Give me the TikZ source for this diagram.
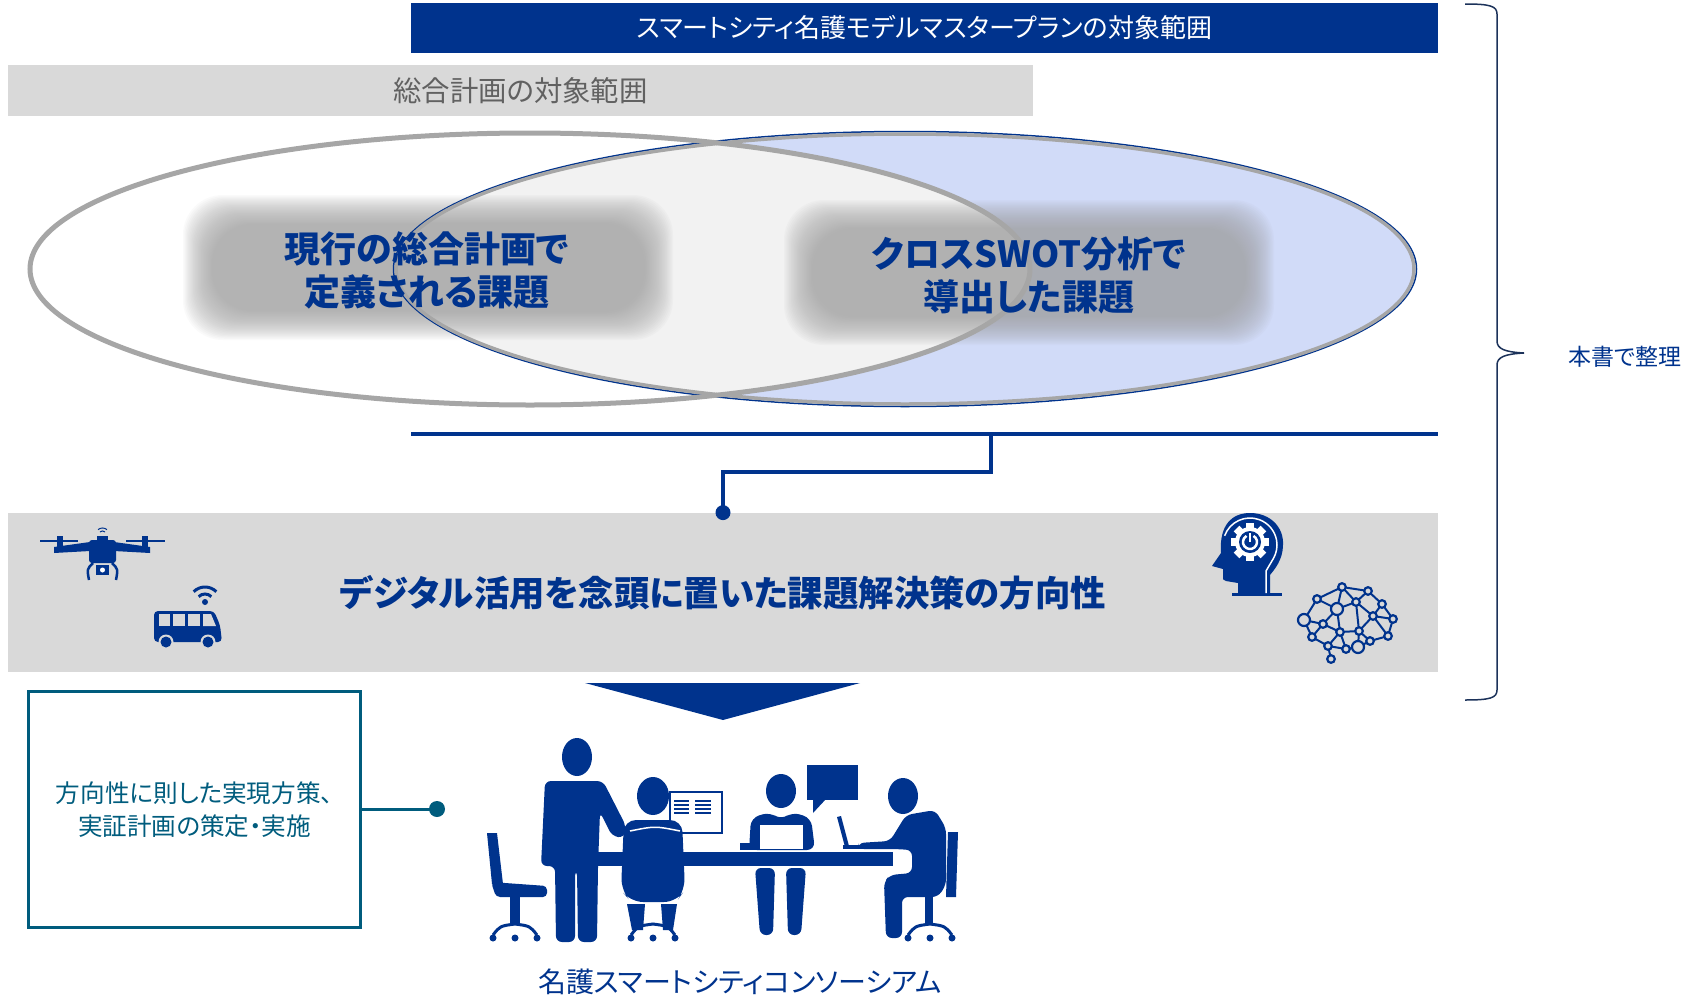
\documentclass[tikz,border=0pt]{standalone}
\usepackage{fontspec}
\setmainfont{Noto Sans CJK JP}[RawFeature=+palt]
\usepackage{tikz}
\usetikzlibrary{positioning,calc}

\definecolor{navy}{RGB}{0,51,141}
\definecolor{darkteal}{RGB}{0,92,125}
\definecolor{bandgray}{RGB}{217,217,217}
\definecolor{rimgray}{RGB}{166,166,166}
\definecolor{skyfill}{RGB}{209,219,248}
\definecolor{capgray}{RGB}{242,242,242}
\definecolor{blobgray}{RGB}{160,160,160}
\definecolor{bracecol}{RGB}{28,50,90}

\begin{document}
\begin{tikzpicture}[x=0.5pt, y=-0.5pt,
    planbar/.style={fill=navy, text=white, inner sep=0pt,
      minimum width=1027*\px, minimum height=50*\px, font=\fontsize{13}{16}\selectfont},
    sogobar/.style={fill=bandgray, text=black!62, inner sep=0pt,
      minimum width=1025*\px, minimum height=51*\px, font=\fontsize{14.2}{17}\selectfont},
    issue/.style={text=navy, align=center, font=\bfseries\fontsize{18}{21.5}\selectfont},
    band/.style={fill=bandgray, text=navy, inner sep=0pt,
      minimum width=1430*\px, minimum height=159*\px, font=\bfseries\fontsize{17.7}{21}\selectfont},
    measbox/.style={draw=darkteal, line width=3.3*\px, text=darkteal, align=center,
      minimum width=332*\px, minimum height=236*\px, font=\fontsize{12.3}{16.5}\selectfont},
    navyline/.style={navy, line width=4.5*\px},
    tealline/.style={darkteal, line width=3*\px},
    netedge/.style={navy, line width=2*\px},
    netnode/.style={draw=navy, fill=bandgray, line width=2.2*\px}
  ]
  % Масштаб: 1 единица = 1 px
  \def\px{0.5pt}
  \useasboundingbox (0,0) rectangle (1704,996);

  % Размытая подложка под текстом
  \def\blob#1#2#3#4{
    \foreach \i in {0,...,23}
      \fill[blobgray, opacity=0.05, rounded corners=20pt]
        ({#1+\i*1.25},{#2+\i*1.25}) rectangle ({#3-\i*1.25},{#4-\i*1.25});
  }
  % Основание офисного стула
  \def\chairbase#1{
    \draw[navy, line width=3*\px] (#1-22,935) .. controls (#1-15,926) .. (#1,924)
      .. controls (#1+15,926) .. (#1+22,935);
    \foreach \wx in {-22,0,22} \fill[navy] (#1+\wx,938) circle[radius=3.5*\px];
  }

  % Заголовки областей
  \node[planbar] (plan) at (924.5,28) {スマートシティ名護モデルマスタープランの対象範囲};
  \node[sogobar] (sogo) at (520.5,90.5) {総合計画の対象範囲};

  % Эллипсы
  \fill[skyfill] (905,269) ellipse[x radius=509*\px, y radius=135*\px];
  \fill[white] (530,269) ellipse[x radius=500*\px, y radius=136*\px];
  \begin{scope}
    \clip (530,269) ellipse[x radius=500*\px, y radius=136*\px];
    \fill[capgray] (905,269) ellipse[x radius=509*\px, y radius=135*\px];
  \end{scope}
  \blob{183}{195}{673}{340}
  \blob{784}{200}{1274}{345}
  \draw[navy, line width=1.5*\px] (905,269) ellipse[x radius=511.5*\px, y radius=137.5*\px];
  \draw[rimgray, line width=3.5*\px] (905,269) ellipse[x radius=509*\px, y radius=135*\px];
  \draw[rimgray, line width=5*\px] (530,269) ellipse[x radius=500*\px, y radius=136*\px];

  \node[issue] (genko) at (427,270) {現行の総合計画で\\定義される課題};
  \node[issue] (swot) at (1029,275) {クロスSWOT分析で\\導出した課題};

  % Линия и выноска к направлению
  \coordinate (lineL) at (411,434);
  \coordinate (lineR) at (1438,434);
  \coordinate (split) at (991,434);
  \draw[navyline] (lineL) -- (lineR);
  \node[band] (hoko) at (723,592.5) {デジタル活用を念頭に置いた課題解決策の方向性};
  \draw[navyline] (split) -- ++(0,38) -| (hoko.north);
  \fill[navy] (hoko.north) circle[radius=7.5*\px];

  % Дрон
  \begin{scope}[shift={(102,555)}]
    \fill[navy] (-62,-15) rectangle (-24,-13);
    \fill[navy] (24,-15) rectangle (63,-13);
    \fill[navy] (-45,-19) rectangle (-39,-6);
    \fill[navy] (40,-19) rectangle (46,-6);
    \fill[navy] (-48,-8) -- (-12,-13) -- (-12,-4) -- (-48,-2) -- cycle;
    \fill[navy] (48,-8) -- (12,-13) -- (12,-4) -- (48,-2) -- cycle;
    \fill[navy, rounded corners=1.5pt] (-13,-15) rectangle (14,8);
    \fill[navy] (-5,-19) rectangle (6,-14);
    \draw[navy, line width=2.5*\px] (-9,8) .. controls (-15,14) .. (-13,25);
    \draw[navy, line width=2.5*\px] (10,8) .. controls (16,14) .. (14,25);
    \fill[navy] (-6,10) rectangle (7,20);
    \fill[white] (0.5,15) circle[radius=2.5*\px];
    \draw[navy, line width=1*\px] (0.5,-20) ++(50:4*\px) arc[start angle=50, end angle=130, radius=4*\px];
    \draw[navy, line width=1*\px] (0.5,-20) ++(50:7*\px) arc[start angle=50, end angle=130, radius=7*\px];
  \end{scope}

  % Автобус
  \fill[navy, rounded corners=2pt] (154,611) -- (214,611) -- (220,625) -- (222,642) -- (154,642) -- cycle;
  \foreach \wl/\wr in {159/170, 173/185, 188/200}
    \fill[bandgray] (\wl,614) rectangle (\wr,626);
  \fill[bandgray] (203,614) -- (211,614) -- (216,626) -- (203,626) -- cycle;
  \foreach \wx in {166,208} {
    \fill[bandgray] (\wx,642) circle[radius=7.5*\px];
    \fill[navy] (\wx,642) circle[radius=5.5*\px];
  }
  \fill[navy] (205,602) circle[radius=3*\px];
  \draw[navy, line width=3*\px] (205,603) ++(45:9*\px) arc[start angle=45, end angle=135, radius=9*\px];
  \draw[navy, line width=3*\px] (205,603) ++(45:16*\px) arc[start angle=45, end angle=135, radius=16*\px];

  % Голова с шестерёнкой
  \fill[navy] (1238,593) -- (1238,583) -- (1226,581) .. controls (1223,580) .. (1223,576)
    -- (1223,569) -- (1212,566) -- (1221,553) .. controls (1219,525) and (1232,513) .. (1250,513)
    .. controls (1270,513) and (1284,527) .. (1283,545) .. controls (1283,560) and (1274,570) .. (1270,575)
    -- (1270,593) -- cycle;
  \fill[navy] (1232,593) rectangle (1282,596);
  \draw[white, line width=1.5*\px] (1250,545) ++(160:27*\px) arc[start angle=160, end angle=-30, radius=27*\px]
    -- (1266,571) -- (1266,593);
  \fill[white] (1250,542) circle[radius=15*\px];
  \foreach \a in {0,45,...,315}
    \fill[white, rotate around={\a:(1250,542)}] (1246,523) rectangle (1254,530);
  \fill[navy] (1250,542) circle[radius=11*\px];
  \draw[white, line width=2.5*\px] (1250,542) ++(60:7*\px) arc[start angle=60, end angle=-240, radius=7*\px];
  \draw[white, line width=2.5*\px] (1250,542) -- (1250,533);

  % Нейросеть
  \foreach \n/\x/\y in {1/1342/587, 2/1368/591, 3/1317/599, 4/1356/602, 5/1382/604,
      6/1337/609, 7/1373/616, 8/1304/620, 9/1393/619, 10/1323/624, 11/1340/632,
      12/1359/631, 13/1312/637, 14/1388/636, 15/1370/641, 16/1328/646, 17/1346/649,
      18/1358/647, 19/1331/659}
    \coordinate (b\n) at (\x,\y);
  \foreach \a/\b in {1/2, 1/3, 1/4, 1/6, 2/4, 2/5, 3/6, 3/8, 4/6, 4/7, 5/7, 5/9, 4/12,
      6/10, 6/11, 7/9, 7/12, 7/14, 8/10, 8/13, 9/14, 10/11, 10/13, 11/12, 11/17, 12/15,
      12/18, 13/16, 14/15, 15/18, 16/17, 16/19, 17/18, 16/11}
    \draw[netedge] (b\a) -- (b\b);
  \foreach \n in {1,2,3,4,5,7,9,10,11,12,13,14,15,16,17,19}
    \draw[netnode] (b\n) circle[radius=3.8*\px];
  \foreach \n in {6,8,18}
    \draw[netnode] (b\n) circle[radius=6*\px];

  % Переход к консорциуму
  \fill[navy] (585,683) -- (860,683) -- (723,720) -- cycle;
  \node[measbox] (jisshi) at (194.5,809.5) {方向性に則した実現方策、\\実証計画の策定・実施};
  \coordinate (tealdot) at (437,809);
  \draw[tealline] (jisshi.east |- tealdot) -- (tealdot);
  \fill[darkteal] (tealdot) circle[radius=8*\px];

  % Команда за столом
  \fill[navy] (487,833) -- (497,833) -- (503,884) -- (492,884) -- cycle;
  \fill[navy, rounded corners=2pt] (491,882) -- (547,886) -- (547,897) -- (496,897) -- cycle;
  \fill[navy] (510,896) rectangle (520,924);
  \chairbase{515}
  \fill[navy] (598,852) rectangle (893,866);
  \fill[navy] (577,757) ellipse[x radius=15*\px, y radius=19*\px];
  \fill[navy, rounded corners=3pt] (545,781) -- (603,781) -- (626,826) -- (624,838) -- (612,836)
    -- (600,812) -- (598,866) -- (597,942) -- (578,942) -- (577,870) -- (575,870) -- (575,942)
    -- (556,942) -- (555,866) -- (541,866) -- cycle;
  \draw[navy, line width=2.5*\px, fill=white] (670,792) rectangle (722,833);
  \foreach \ly in {800,804,808,812} {
    \fill[navy] (674,\ly) rectangle (689,\ly+2);
    \fill[navy] (695,\ly) rectangle (711,\ly+2);
  }
  \fill[navy] (653,796) ellipse[x radius=16*\px, y radius=19*\px];
  \fill[navy, rounded corners=6pt] (624,820) -- (682,820) -- (685,890) -- (676,902) -- (631,902)
    -- (621,890) -- cycle;
  \draw[white, line width=1.5*\px] (630,831) .. controls (655,826) .. (680,831);
  \fill[navy] (627,904) -- (645,904) -- (643,930) -- (632,930) -- cycle;
  \fill[navy] (661,904) -- (677,904) -- (673,930) -- (663,930) -- cycle;
  \chairbase{653}
  \fill[navy] (781,791) ellipse[x radius=15*\px, y radius=17*\px];
  \fill[navy, rounded corners=4pt] (749,850) -- (751,818) -- (770,812) -- (781,820) -- (792,812)
    -- (811,818) -- (815,850) -- cycle;
  \fill[white] (760,825) rectangle (803,849);
  \fill[navy] (740,843) rectangle (756,850);
  \fill[navy, rounded corners=3pt] (755,868) -- (775,868) -- (773,935) -- (760,935) -- cycle;
  \fill[navy, rounded corners=3pt] (786,868) -- (806,868) -- (801,935) -- (788,935) -- cycle;
  \fill[navy] (807,765) rectangle (858,800);
  \fill[navy] (813,799) -- (813,813) -- (826,799) -- cycle;
  \fill[navy] (903,796) ellipse[x radius=15*\px, y radius=18*\px];
  \fill[navy, rounded corners=3pt] (906,815) -- (935,810) -- (946,828) -- (946,885) -- (938,897)
    -- (902,897) -- (902,938) -- (886,938) -- (884,882) -- (890,875) -- (912,873) -- (912,850)
    -- (895,849) -- (858,849) -- (858,843) -- (890,841) -- cycle;
  \fill[navy] (837,817) -- (841,816) -- (849,846) -- (845,847) -- cycle;
  \fill[navy] (843,845) rectangle (870,849);
  \fill[navy] (948,832) -- (958,832) -- (956,897) -- (946,897) -- cycle;
  \fill[navy] (925,896) rectangle (933,924);
  \chairbase{930}
  \node[text=navy, font=\fontsize{14}{17}\selectfont] (consortium) at (740,982)
    {名護スマートシティコンソーシアム};

  % Фигурная скобка
  \draw[bracecol, line width=1.5*\px] (1465,4) .. controls (1490,4) and (1497,6) .. (1497,14)
    -- (1497,341) .. controls (1497,349) and (1505,352) .. (1524,353)
    .. controls (1505,354) and (1497,357) .. (1497,365)
    -- (1497,690) .. controls (1497,698) and (1490,700) .. (1465,700);
  \node[text=navy, font=\fontsize{11.5}{14}\selectfont] (honsho) at (1625,357) {本書で整理};
\end{tikzpicture}
\end{document}
